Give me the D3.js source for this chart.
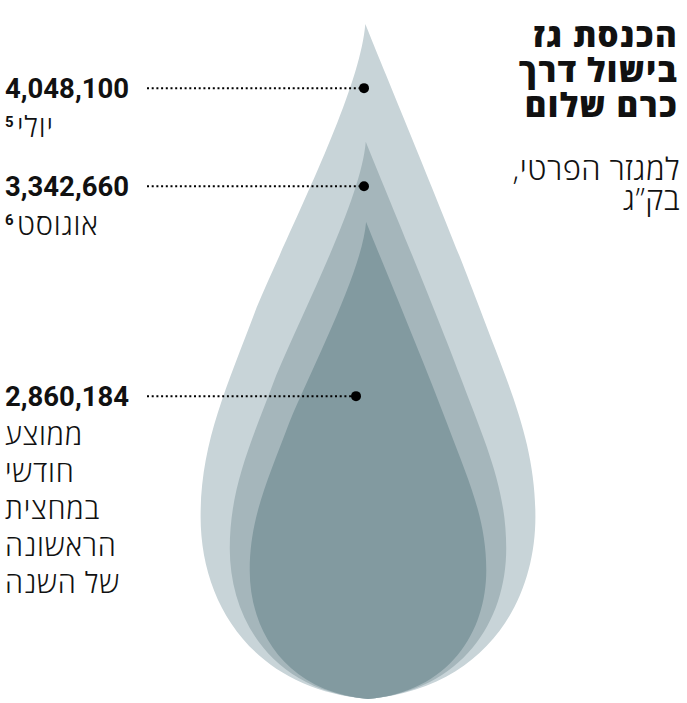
<!DOCTYPE html>
<html>
<head>
<meta charset="utf-8">
<script src="https://cdn.jsdelivr.net/npm/d3@7"></script>
<style>
  html, body { margin: 0; padding: 0; background: #fff; }
  svg { display: block; }
</style>
</head>
<body>
<div id="chart"></div>
<script>
// values, kg
var values = [4048100, 3342660, 2860184];
var footnotes = ["5", "6", ""];
var periodLabels = [
    ["יולי"],
    ["אוגוסט"],
    ["ממוצע", "חודשי", "במחצית", "הראשונה", "של השנה"]
];
var titleLines = ["הכנסת גז", "בישול דרך", "כרם שלום"];
var subtitleLines = ["למגזר הפרטי,", "בק”ג"];
var dropColors = ["#c8d4d8", "#a5b6bb", "#829aa0"];

//chart size
var width = 687,
    height = 703;

// where the drops stand and how tall the largest is
var cx = 368, bottomY = 699, maxH = 675;
// position of each pointer dot along its drop (fraction from the tip) and x shift
var dotT = [0.095, 0.08, 0.365],
    dotDx = [-4, -4, -12];

var hebFont = "'Open Sans', 'Liberation Sans', 'DejaVu Sans', sans-serif";

var h = d3.scaleLinear()
    .domain([0, d3.max(values)])
    .range([0, maxH]);

// drop outline in unit coordinates, tip at (0,0), bottom at (0,1)
function dropPath(H) {
    var p = d3.path();
    function X(x) { return cx + x * H; }
    function Y(y) { return bottomY - H + y * H; }
    p.moveTo(X(-0.004), Y(0));
    p.bezierCurveTo(X(0.02), Y(0.06), X(0.12), Y(0.30), X(0.165), Y(0.42));
    p.bezierCurveTo(X(0.21), Y(0.54), X(0.248), Y(0.62), X(0.248), Y(0.73));
    p.bezierCurveTo(X(0.248), Y(0.86), X(0.17), Y(0.985), X(0), Y(1));
    p.bezierCurveTo(X(-0.17), Y(0.985), X(-0.248), Y(0.86), X(-0.248), Y(0.73));
    p.bezierCurveTo(X(-0.248), Y(0.62), X(-0.21), Y(0.54), X(-0.165), Y(0.42));
    p.bezierCurveTo(X(-0.11), Y(0.29), X(-0.012), Y(0.1), X(-0.004), Y(0));
    p.closePath();
    return p.toString();
}

var svg = d3.select("#chart")
    .append("svg")
    .attr("width", width)
    .attr("height", height);

var data = values.map(function(v, i) {
    var H = h(v);
    return {
        value: v,
        H: H,
        color: dropColors[i],
        note: footnotes[i],
        lines: periodLabels[i],
        dotX: cx + dotDx[i],
        dotY: bottomY - H + dotT[i] * H
    };
});

//drops, biggest first
svg.selectAll(".drop")
    .data(data)
    .enter().append("path")
    .attr("class", "drop")
    .attr("d", function(d) { return dropPath(d.H); })
    .style("fill", function(d) { return d.color; });

var fmt = d3.format(",");

var lab = svg.selectAll(".lab")
    .data(data)
    .enter().append("g")
    .attr("class", "lab");

lab.append("line")
    .attr("x1", 147)
    .attr("x2", function(d) { return d.dotX; })
    .attr("y1", function(d) { return d.dotY; })
    .attr("y2", function(d) { return d.dotY; })
    .style("stroke", "#000")
    .style("stroke-width", 2)
    .style("stroke-dasharray", "2,2.7");

lab.append("circle")
    .attr("cx", function(d) { return d.dotX; })
    .attr("cy", function(d) { return d.dotY; })
    .attr("r", 5)
    .style("fill", "#000");

lab.append("text")
    .attr("x", 129)
    .attr("y", function(d) { return d.dotY + 9.5; })
    .style("text-anchor", "end")
    .style("font-family", "Roboto, sans-serif")
    .style("font-weight", 700)
    .style("font-size", "27.5px")
    .style("fill", "#111")
    .text(function(d) { return fmt(d.value); });

// footnote number sits left of the hebrew word
lab.filter(function(d) { return d.note; })
    .append("text")
    .attr("x", 5)
    .attr("y", function(d) { return d.dotY + 48.5 - 10; })
    .style("font-family", "Roboto, sans-serif")
    .style("font-weight", 700)
    .style("font-size", "15px")
    .style("fill", "#111")
    .text(function(d) { return d.note; });

lab.each(function(d) {
    var g = d3.select(this);
    var x0 = d.note ? 17 : 5;
    d.lines.forEach(function(line, j) {
        g.append("text")
            .attr("x", x0)
            .attr("y", d.dotY + 48.5 + j * 37)
            .attr("direction", "rtl")
            .style("text-anchor", "end")
            .style("font-family", hebFont)
            .style("font-weight", 300)
            .style("font-size", "29px")
            .style("letter-spacing", "0.8px")
            .style("fill", "#111")
            .text(line);
    });
});

//title top right
svg.selectAll(".title")
    .data(titleLines)
    .enter().append("text")
    .attr("class", "title")
    .attr("x", 678)
    .attr("y", function(d, i) { return 47 + i * 35; })
    .attr("direction", "rtl")
    .style("text-anchor", "start")
    .style("font-family", hebFont)
    .style("font-weight", 800)
    .style("font-size", "33px")
    .style("letter-spacing", "1.3px")
    .style("fill", "#111")
    .text(function(d) { return d; });

svg.selectAll(".subtitle")
    .data(subtitleLines)
    .enter().append("text")
    .attr("class", "subtitle")
    .attr("x", 680)
    .attr("y", function(d, i) { return 180 + i * 30; })
    .attr("direction", "rtl")
    .style("text-anchor", "start")
    .style("font-family", hebFont)
    .style("font-weight", 300)
    .style("font-size", "31px")
    .style("letter-spacing", "0.5px")
    .style("fill", "#111")
    .text(function(d) { return d; });
</script>
</body>
</html>
